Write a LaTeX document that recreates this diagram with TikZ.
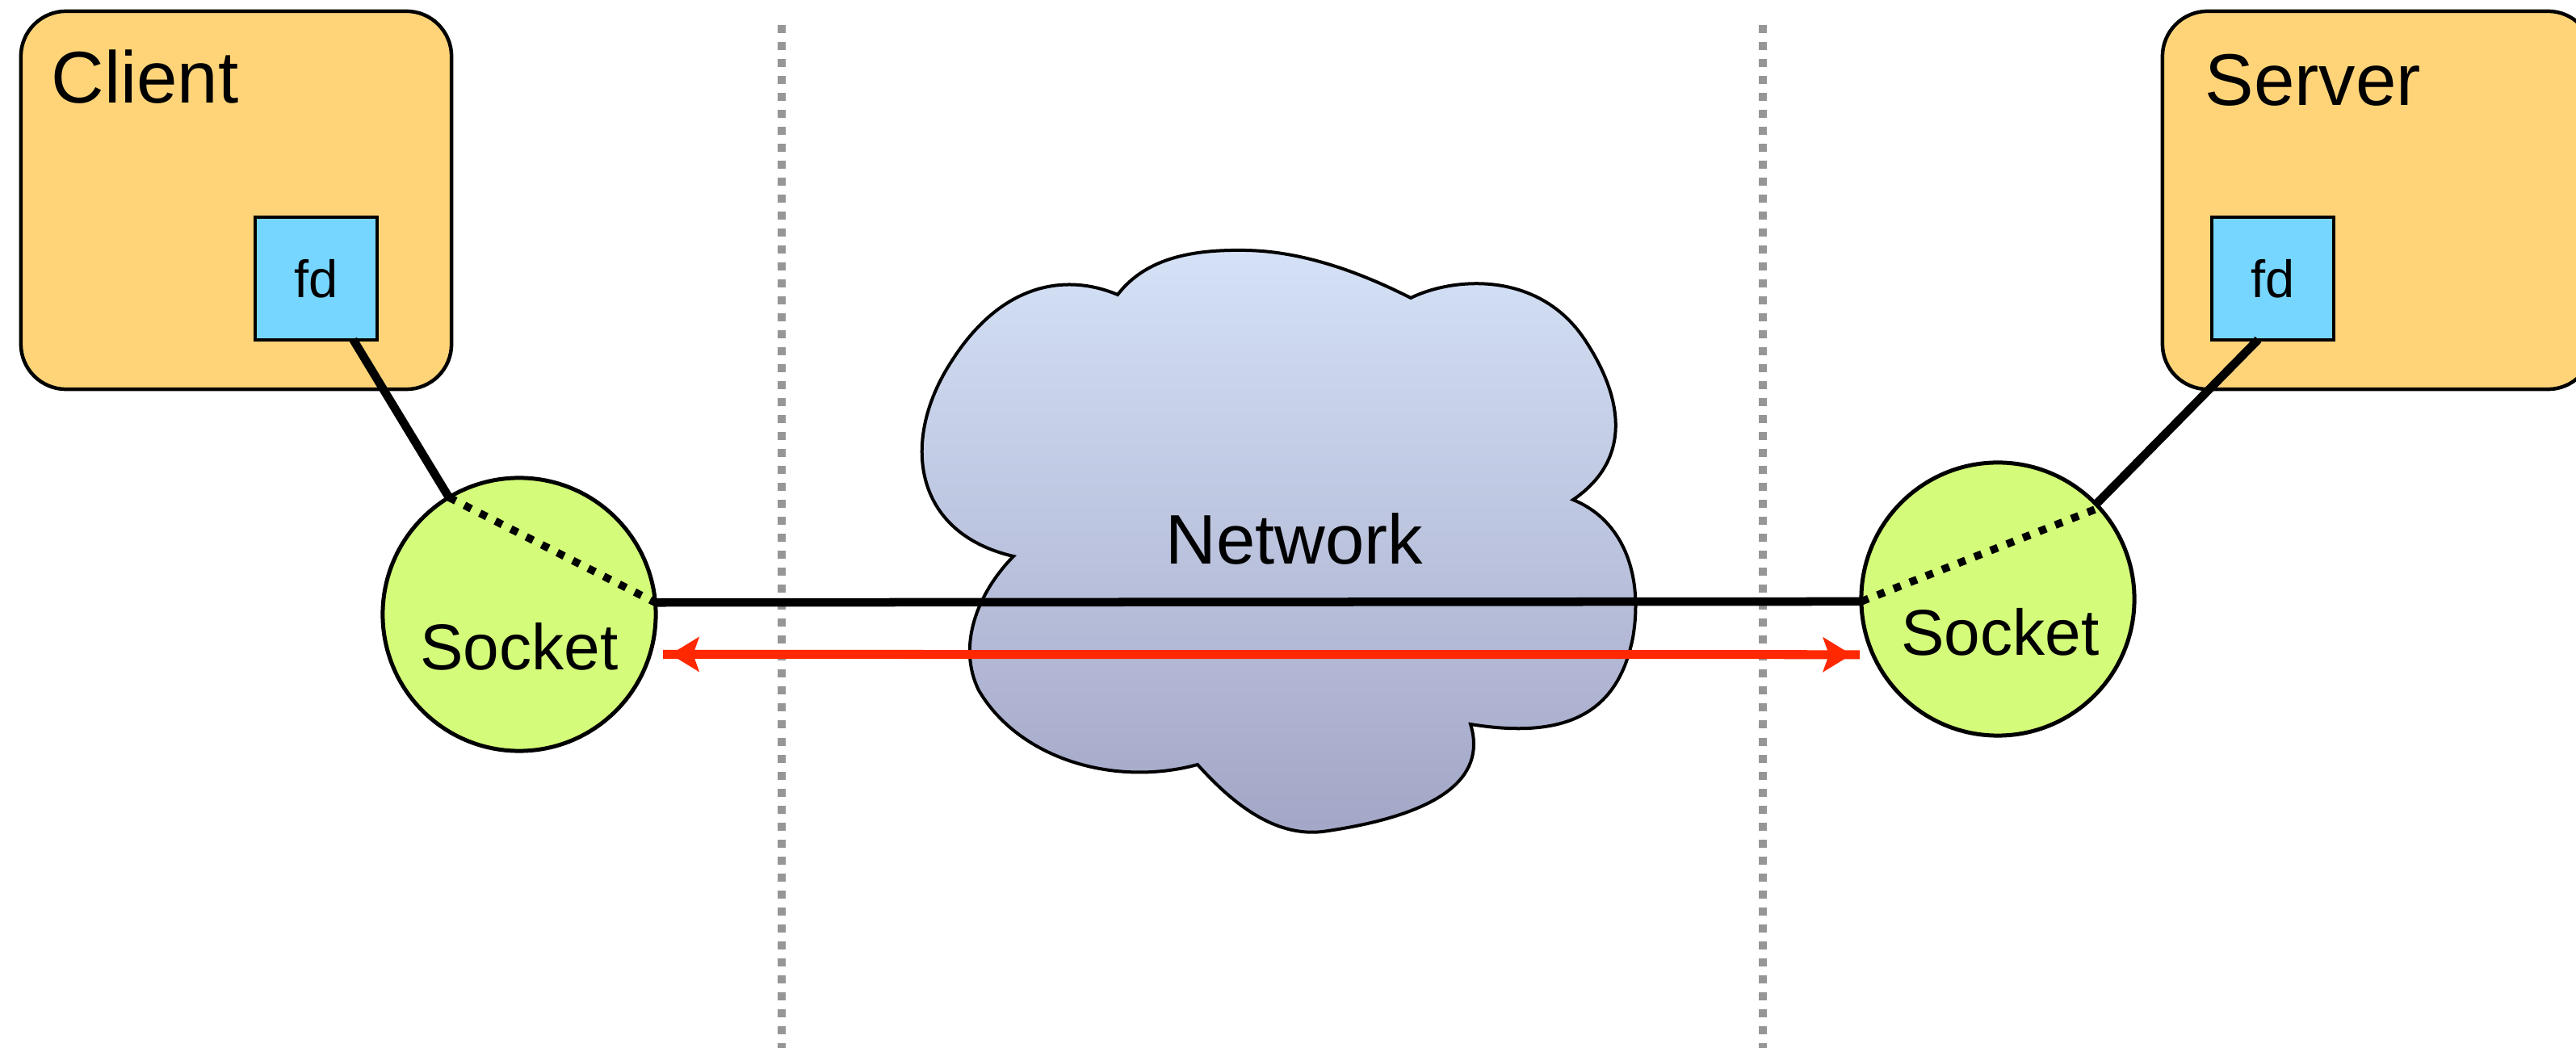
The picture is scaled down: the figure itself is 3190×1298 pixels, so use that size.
\documentclass[tikz,border=0pt]{standalone}
\usepackage{fontspec}
\setmainfont{Liberation Sans}
\definecolor{boxfill}{RGB}{255,212,121}
\definecolor{fdfill}{RGB}{118,214,255}
\definecolor{sockfill}{RGB}{212,251,121}
\definecolor{cloudtop}{RGB}{212,225,246}
\definecolor{cloudbot}{RGB}{163,166,198}
\definecolor{arrowred}{RGB}{255,40,0}
\definecolor{sepgray}{RGB}{150,150,150}
\begin{document}
\begin{tikzpicture}[x=0.01cm, y=-0.01cm,
  hostbox/.style={draw=black, line width=0.45mm, fill=boxfill, rounded corners=5.6mm, minimum width=53.3mm, minimum height=46.8mm, inner sep=0pt, outer sep=0pt},
  fdbox/.style={draw=black, line width=0.4mm, fill=fdfill, minimum size=15.1mm, inner sep=0pt, outer sep=0pt, font=\fontsize{18.5}{20}\selectfont},
  sockcirc/.style={circle, draw=black, line width=0.5mm, fill=sockfill, minimum size=33.8mm, inner sep=0pt, outer sep=0pt},
  hostlabel/.style={anchor=base west, inner sep=0pt, font=\fontsize{25.8}{28}\selectfont},
  socklabel/.style={anchor=base, inner sep=0pt, font=\fontsize{22.8}{25}\selectfont},
  netlabel/.style={anchor=base, inner sep=0pt, font=\fontsize{24.7}{27}\selectfont},
  link/.style={line width=1.05mm},
  dotlink/.style={line width=0.95mm, dash pattern=on 0.95mm off 1.2mm},
  separator/.style={draw=sepgray, line width=1mm, dash pattern=on 1mm off 1.1mm},
  flowline/.style={draw=arrowred, line width=1.1mm},
  flowhead/.style={fill=arrowred}
]
\useasboundingbox (0,0) rectangle (3190,1298);

% separators
\coordinate (sepAtop) at (968,31);
\coordinate (sepAbot) at (968,1298);
\coordinate (sepBtop) at (2183,31);
\coordinate (sepBbot) at (2183,1298);
\draw[separator] (sepAtop) -- (sepAbot);
\draw[separator] (sepBtop) -- (sepBbot);

% cloud
\path[draw=black, line width=0.4mm, top color=cloudtop, bottom color=cloudbot]
  (1384,365) .. controls (1420,318) and (1480,309) .. (1542,310)
  .. controls (1610,311) and (1680,335) .. (1747,369)
  .. controls (1800,343) and (1905,335) .. (1962,420)
  .. controls (2012,495) and (2020,570) .. (1948,619)
  .. controls (2012,645) and (2035,715) .. (2022,790)
  .. controls (2005,875) and (1950,918) .. (1821,897)
  .. controls (1842,965) and (1780,1010) .. (1638,1030)
  .. controls (1585,1036) and (1535,1005) .. (1483,947)
  .. controls (1380,975) and (1262,940) .. (1212,855)
  .. controls (1185,800) and (1210,735) .. (1255,689)
  .. controls (1130,660) and (1115,545) .. (1178,448)
  .. controls (1240,350) and (1320,338) .. (1384,365)
  -- cycle;
\node[netlabel] (net) at (1603,699) {Network};

% hosts
\node[hostbox] (client) at (292.5,248) {};
\node[hostlabel] (clientlbl) at (63,128) {Client};
\node[hostbox] (server) at (2944.5,248) {};
\node[hostlabel] (serverlbl) at (2730,131) {Server};
\node[fdbox] (fd1) at (391.5,345) {fd};
\node[fdbox] (fd2) at (2814.5,345) {fd};

% sockets
\node[sockcirc] (s1) at (643,761) {};
\node[sockcirc] (s2) at (2474,742) {};
\node[socklabel] (s1lbl) at (643,830) {Socket};
\node[socklabel] (s2lbl) at (2477,812) {Socket};

% connectors
\draw[link] (fd1) -- (s1.121);
\draw[link] ([xshift=-1.8mm]fd2.south) -- (s2.44);
\draw[link] (s1.5) -- (s2.181);
\draw[dotlink] (s1.121) -- (s1.5);
\draw[dotlink] (s2.181) -- (s2.42);

% red two-way flow
\coordinate (flowL) at ([xshift=1.65mm]s1.-17);
\coordinate (flowR) at ([xshift=-1.65mm]s2.204);
\coordinate (tipL) at ([xshift=2.55mm]s1.-17);
\coordinate (tipR) at ([xshift=-2.65mm]s2.204);
\draw[flowline] (flowL) -- (flowR);
\fill[flowhead] (tipL) -- ++(36,-22) -- ++(-8,22) -- ++(8,22) -- cycle;
\fill[flowhead] (tipR) -- ++(-36,-22) -- ++(8,22) -- ++(-8,22) -- cycle;
\end{tikzpicture}
\end{document}
